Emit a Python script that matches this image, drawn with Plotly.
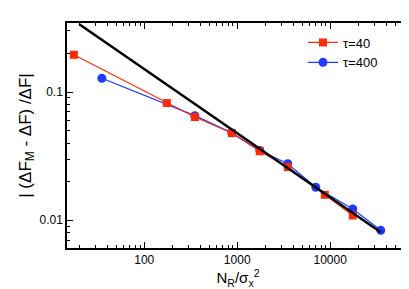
import plotly.graph_objects as go
import numpy as np

# data
x_tau40 = [17.5, 175, 350, 875, 1750, 3500, 8750, 17500]
y_tau40 = [0.195, 0.082, 0.0638, 0.0479, 0.0345, 0.026, 0.0158, 0.0109]
x_tau400 = [35, 350, 875, 1750, 3500, 7000, 17500, 35000]
y_tau400 = [0.128, 0.0654, 0.048, 0.035, 0.0276, 0.0181, 0.01225, 0.00835]
fit_x = [20, 35000]
fit_coef = 1.51  # y = coef * x^-0.5
fit_y = [fit_coef / np.sqrt(v) for v in fit_x]

x_ticks = [100, 1000, 10000]
x_ticklabels = ["100", "1000", "10000"]
y_ticks = [0.01, 0.1]
y_ticklabels = ["0.01", "0.1"]

red = "#FF2A0A"
blue = "#1E3CFF"

fig = go.Figure()
fig.add_trace(go.Scatter(x=x_tau400, y=y_tau400, mode="lines+markers", name="τ=400",
                         line=dict(color=blue, width=1.2),
                         marker=dict(symbol="circle", size=9, color=blue)))
fig.add_trace(go.Scatter(x=x_tau40, y=y_tau40, mode="lines+markers", name="τ=40",
                         line=dict(color=red, width=1.2),
                         marker=dict(symbol="square", size=8, color=red)))
fig.add_trace(go.Scatter(x=fit_x, y=fit_y, mode="lines", showlegend=False,
                         line=dict(color="black", width=2.5)))

font = "Liberation Sans, Arial, Helvetica, sans-serif"
axis_common = dict(type="log", showline=True, linecolor="black", linewidth=1.5, mirror="ticks",
                   ticks="inside", ticklen=6, tickwidth=1, tickcolor="black",
                   showgrid=False, zeroline=False,
                   tickfont=dict(family=font, size=12, color="black"),
                   minor=dict(ticks="inside", ticklen=3, tickcolor="black", dtick="D1", showgrid=False))

fig.update_layout(
    width=409, height=289,
    margin=dict(l=59, r=6, t=15, b=49),
    plot_bgcolor="white", paper_bgcolor="white",
    font=dict(family=font, color="black"),
    legend=dict(x=0.69, y=0.98, xanchor="left", yanchor="top", traceorder="reversed",
                font=dict(family=font, size=13, color="black"),
                bgcolor="rgba(0,0,0,0)", itemwidth=30, tracegroupgap=4),
    xaxis=dict(range=[1.169, 4.848], tickvals=x_ticks, ticktext=x_ticklabels,
               title=dict(text="N<sub>R</sub>/σ<sub>x</sub><sup>2</sup>", font=dict(family=font, size=15), standoff=2),
               **axis_common),
    yaxis=dict(range=[-2.216, -0.462], tickvals=y_ticks, ticktext=y_ticklabels,
               title=dict(text="| (ΔF<sub>M</sub> - ΔF) /ΔF|", font=dict(family=font, size=17), standoff=4),
               **axis_common),
)

fig.write_html("out.html")
